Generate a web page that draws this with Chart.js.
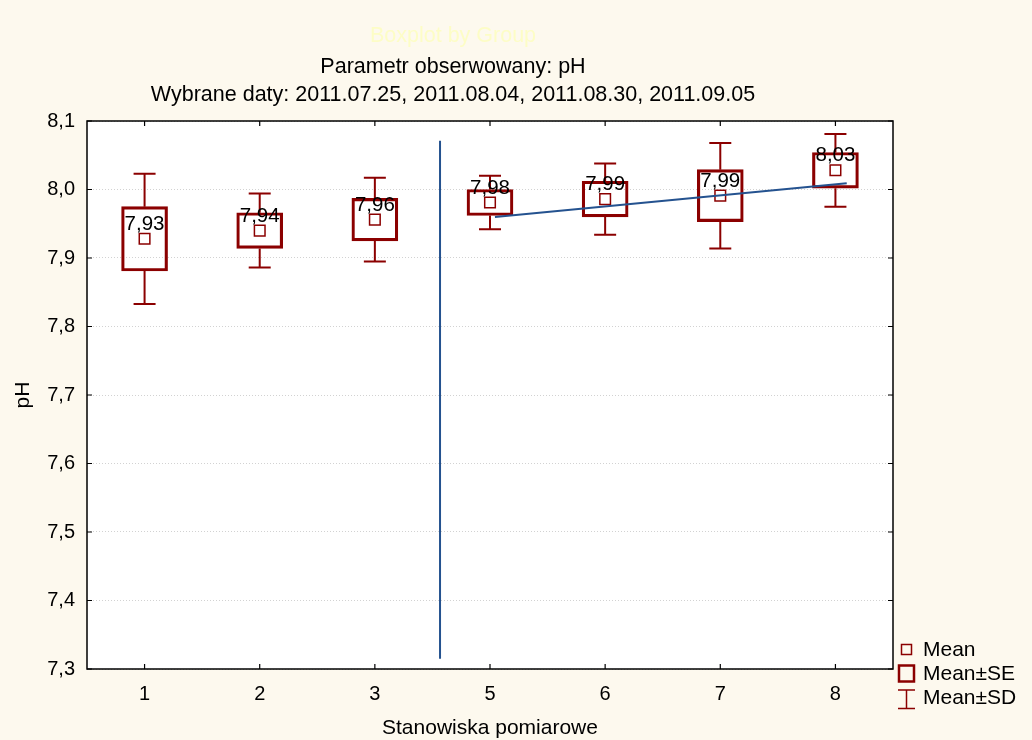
<!DOCTYPE html>
<html lang="pl">
<head>
<meta charset="UTF-8">
<title>pH - stanowiska pomiarowe</title>
<script src="https://cdn.jsdelivr.net/npm/chart.js"></script>
<style>
  body { margin: 0; background: #fdf9ee; }
  canvas { display: block; }
</style>
</head>
<body>
<canvas id="boxChart" width="1032" height="740"></canvas>
<script>
// sites and per-site statistics (mean, standard error, standard deviation)
const sites = ['1', '2', '3', '5', '6', '7', '8'];
const means = [7.928, 7.940, 7.956, 7.981, 7.986, 7.991, 8.028];
const se = [0.047, 0.026, 0.031, 0.019, 0.026, 0.038, 0.026];
const sd = [0.095, 0.054, 0.061, 0.039, 0.052, 0.077, 0.053];

// separator line and trend line (x in site index units)
const dividerX = [2.566, 2.566];
const dividerY = [8.071, 7.315];
const trendX = [3.043, 6.098];
const trendY = [7.960, 8.009];

const titleLines = ['Parametr obserwowany: pH', 'Wybrane daty: 2011.07.25, 2011.08.04, 2011.08.30, 2011.09.05'];
const ghostTitle = 'Boxplot by Group';
const legendLabels = ['Mean', 'Mean\u00b1SE', 'Mean\u00b1SD'];

const RED = '#8b0000';
const BLUE = '#24528f';
const BG = '#fdf9ee';
const FONT = '"Liberation Sans", Arial, sans-serif';
Chart.defaults.font.family = FONT;
Chart.defaults.color = '#000';

const comma = (v, d) => v.toFixed(d).replace('.', ',');

// background, white plot area, frame with inward ticks
const plotFrame = {
    id: 'plotFrame',
    beforeDraw(chart) {
        const {ctx, chartArea: a} = chart;
        ctx.save();
        ctx.fillStyle = BG;
        ctx.fillRect(0, 0, chart.width, chart.height);
        ctx.fillStyle = '#fff';
        ctx.fillRect(a.left, a.top, a.right - a.left, a.bottom - a.top);
        ctx.restore();
    },
    afterDraw(chart) {
        const {ctx, chartArea: a, scales: {x, y}} = chart;
        ctx.save();
        ctx.strokeStyle = '#000';
        ctx.lineWidth = 1.5;
        ctx.strokeRect(a.left, a.top, a.right - a.left, a.bottom - a.top);
        ctx.lineWidth = 1.2;
        ctx.beginPath();
        x.ticks.forEach(t => {
            const px = x.getPixelForValue(t.value);
            ctx.moveTo(px, a.bottom); ctx.lineTo(px, a.bottom - 5);
            ctx.moveTo(px, a.top); ctx.lineTo(px, a.top + 5);
        });
        y.ticks.forEach(t => {
            const py = y.getPixelForValue(t.value);
            ctx.moveTo(a.left, py); ctx.lineTo(a.left + 5, py);
            ctx.moveTo(a.right, py); ctx.lineTo(a.right - 5, py);
        });
        ctx.stroke();
        ctx.restore();
    }
};

// mean +/- SD whiskers
const whiskers = {
    id: 'whiskers',
    beforeDatasetsDraw(chart) {
        const {ctx, scales: {x, y}} = chart;
        ctx.save();
        ctx.strokeStyle = RED;
        ctx.lineWidth = 2;
        ctx.beginPath();
        means.forEach((m, i) => {
            const px = x.getPixelForValue(i);
            const hi = y.getPixelForValue(m + sd[i]);
            const lo = y.getPixelForValue(m - sd[i]);
            ctx.moveTo(px, hi); ctx.lineTo(px, y.getPixelForValue(m + se[i]));
            ctx.moveTo(px, lo); ctx.lineTo(px, y.getPixelForValue(m - se[i]));
            ctx.moveTo(px - 11, hi); ctx.lineTo(px + 11, hi);
            ctx.moveTo(px - 11, lo); ctx.lineTo(px + 11, lo);
        });
        ctx.stroke();
        ctx.restore();
    }
};

// mean values printed above the markers
const meanLabels = {
    id: 'meanLabels',
    afterDatasetsDraw(chart) {
        const {ctx, scales: {x, y}} = chart;
        ctx.save();
        ctx.font = '20.5px ' + FONT;
        ctx.fillStyle = '#000';
        ctx.textAlign = 'center';
        ctx.textBaseline = 'alphabetic';
        means.forEach((m, i) => {
            ctx.fillText(comma(m, 2), x.getPixelForValue(i), y.getPixelForValue(m) - 9);
        });
        ctx.restore();
    }
};

// titles and legend
const decorations = {
    id: 'decorations',
    afterDraw(chart) {
        const {ctx} = chart;
        ctx.save();
        ctx.textAlign = 'center';
        ctx.textBaseline = 'middle';
        ctx.font = '21.5px ' + FONT;
        ctx.fillStyle = '#fdfdc6';
        ctx.fillText(ghostTitle, 453, 36);
        ctx.fillStyle = '#000';
        ctx.fillText(titleLines[0], 453, 67);
        ctx.fillText(titleLines[1], 453, 95);

        ctx.strokeStyle = RED;
        // Mean
        ctx.lineWidth = 1.5;
        ctx.strokeRect(901.5, 644.5, 10, 10);
        // Mean±SE
        ctx.lineWidth = 2.5;
        ctx.strokeRect(899, 665.5, 15, 16);
        // Mean±SD
        ctx.lineWidth = 1.5;
        ctx.beginPath();
        ctx.moveTo(906.5, 690); ctx.lineTo(906.5, 708.5);
        ctx.moveTo(898, 690); ctx.lineTo(915, 690);
        ctx.moveTo(898, 708.5); ctx.lineTo(915, 708.5);
        ctx.stroke();

        ctx.textAlign = 'left';
        ctx.font = '21px ' + FONT;
        ctx.fillText(legendLabels[0], 923, 650);
        ctx.fillText(legendLabels[1], 923, 674);
        ctx.fillText(legendLabels[2], 923, 698);
        ctx.restore();
    }
};

new Chart(document.getElementById('boxChart'), {
    type: 'scatter',
    data: {
        datasets: [
            {
                type: 'line',
                label: 'divider',
                data: dividerX.map((v, i) => ({x: v, y: dividerY[i]})),
                borderColor: BLUE,
                borderWidth: 2,
                pointRadius: 0,
                order: 0
            },
            {
                type: 'line',
                label: 'trend',
                data: trendX.map((v, i) => ({x: v, y: trendY[i]})),
                borderColor: BLUE,
                borderWidth: 2,
                pointRadius: 0,
                order: 0
            },
            {
                type: 'scatter',
                label: 'Mean',
                data: means.map((m, i) => ({x: i, y: m})),
                pointStyle: 'rect',
                pointRadius: 7.5,
                borderColor: RED,
                backgroundColor: '#fff',
                borderWidth: 1.5,
                order: 1
            },
            {
                type: 'bar',
                label: 'Mean\u00b1SE',
                data: means.map((m, i) => ({x: i, y: [m - se[i], m + se[i]]})),
                backgroundColor: 'rgba(255,255,255,0)',
                borderColor: RED,
                borderWidth: 2.5,
                borderSkipped: false,
                barThickness: 46,
                order: 2
            }
        ]
    },
    options: {
        responsive: false,
        animation: false,
        layout: {padding: {left: 0, top: 121, right: 139, bottom: 0}},
        plugins: {
            legend: {display: false},
            tooltip: {enabled: false},
            title: {display: false}
        },
        scales: {
            x: {
                type: 'linear',
                min: -0.5,
                max: 6.5,
                offset: false,
                afterFit: s => { s.height = 71; },
                // one tick per site
                afterBuildTicks: s => { s.ticks = sites.map((_, i) => ({value: i})); },
                grid: {display: false, drawTicks: false},
                border: {display: false},
                ticks: {
                    autoSkip: false,
                    maxRotation: 0,
                    padding: 13,
                    font: {size: 20},
                    color: '#000',
                    callback: v => sites[Math.round(v)] ?? ''
                },
                title: {
                    display: true,
                    text: 'Stanowiska pomiarowe',
                    font: {size: 21, lineHeight: 1.1},
                    color: '#000',
                    padding: {top: 0, bottom: 0}
                }
            },
            y: {
                type: 'linear',
                min: 7.3,
                max: 8.1,
                afterFit: s => { s.width = 87; },
                grid: {color: '#d2d2d2', lineWidth: 1, drawTicks: false},
                border: {display: false, dash: [1, 2]},
                ticks: {
                    stepSize: 0.1,
                    padding: 12,
                    font: {size: 20},
                    color: '#000',
                    callback: v => comma(v, 1)
                },
                title: {
                    display: true,
                    text: 'pH',
                    font: {size: 21, lineHeight: 1.2},
                    color: '#000',
                    padding: {top: 11, bottom: 0}
                }
            }
        }
    },
    plugins: [plotFrame, whiskers, meanLabels, decorations]
});
</script>
</body>
</html>
